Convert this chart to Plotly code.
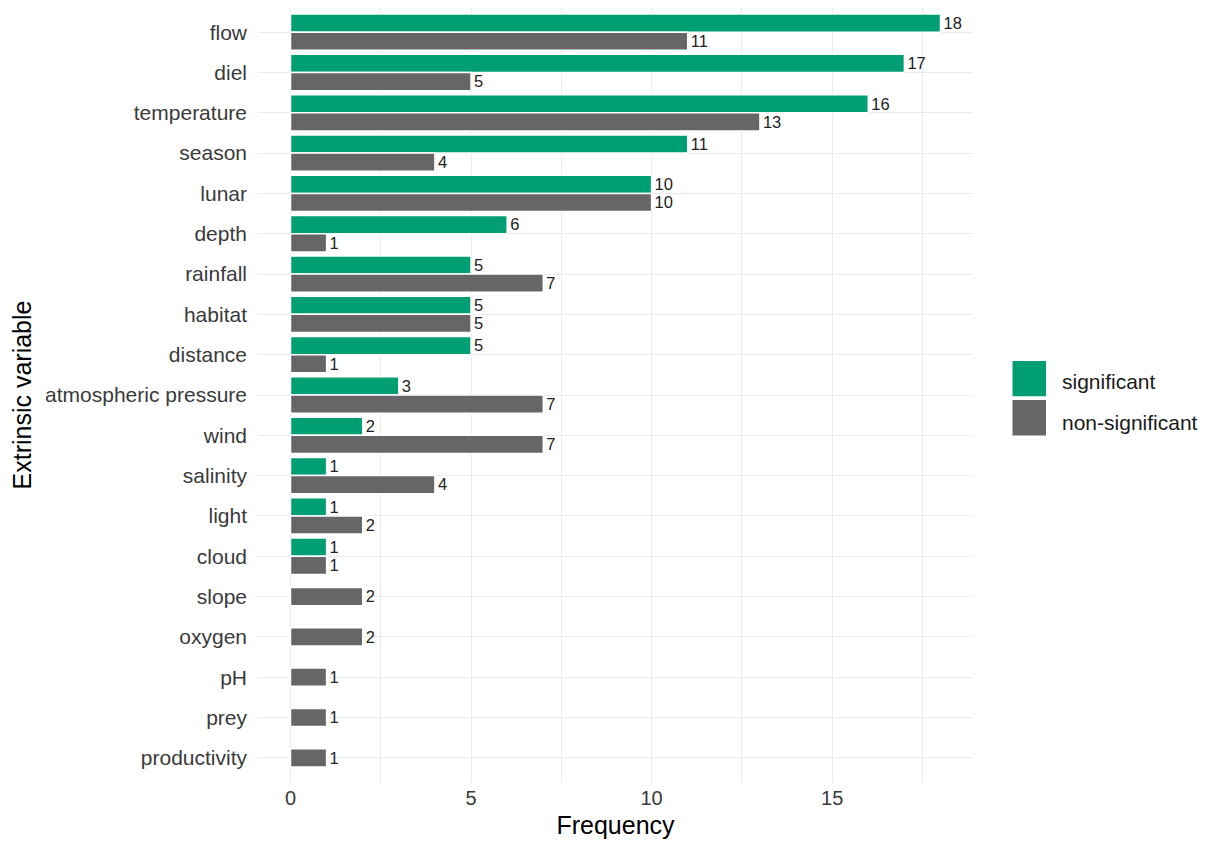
import plotly.graph_objects as go

categories = ["flow", "diel", "temperature", "season", "lunar", "depth", "rainfall",
              "habitat", "distance", "atmospheric pressure", "wind", "salinity",
              "light", "cloud", "slope", "oxygen", "pH", "prey", "productivity"]
significant = [18, 17, 16, 11, 10, 6, 5, 5, 5, 3, 2, 1, 1, 1, 0, 0, 0, 0, 0]
non_significant = [11, 5, 13, 4, 10, 1, 7, 5, 1, 7, 7, 4, 2, 1, 2, 2, 1, 1, 1]
x_ticks = [0, 5, 10, 15]

GREEN = "#009E73"
GRAY = "#666666"
FONT = "Liberation Sans, Arial, sans-serif"
W = 0.45

sig_y, sig_x = [], []
non_y, non_x, non_off = [], [], []
for c, s, n in zip(categories, significant, non_significant):
    if s > 0:
        sig_y.append(c)
        sig_x.append(s)
    if n > 0:
        non_y.append(c)
        non_x.append(n)
        non_off.append(0.0 if s > 0 else -W / 2)

fig = go.Figure()
fig.add_trace(go.Bar(
    y=sig_y, x=sig_x, orientation="h", name="significant",
    marker=dict(color=GREEN, line=dict(color="white", width=1.5)),
    width=W, offset=-W,
    text=[str(v) for v in sig_x], textposition="outside",
    textfont=dict(size=20, color="#222222", family=FONT),
    cliponaxis=False, showlegend=False,
))
fig.add_trace(go.Bar(
    y=non_y, x=non_x, orientation="h", name="non-significant",
    marker=dict(color=GRAY, line=dict(color="white", width=1.5)),
    width=W, offset=non_off,
    text=[str(v) for v in non_x], textposition="outside",
    textfont=dict(size=20, color="#222222", family=FONT),
    cliponaxis=False, showlegend=False,
))

# legend keys drawn manually (ggplot style)
fig.add_shape(type="rect", xref="paper", yref="paper", x0=1.0542, x1=1.1032, y0=0.4974, y1=0.5449,
              fillcolor=GREEN, line=dict(color="white", width=1.5))
fig.add_shape(type="rect", xref="paper", yref="paper", x0=1.0542, x1=1.1032, y0=0.4466, y1=0.4944,
              fillcolor=GRAY, line=dict(color="white", width=1.5))
fig.add_annotation(xref="paper", yref="paper", x=1.122, y=0.5168, text="significant",
                   showarrow=False, xanchor="left", yanchor="middle",
                   font=dict(size=21, color="#1a1a1a", family=FONT))
fig.add_annotation(xref="paper", yref="paper", x=1.122, y=0.4651, text="non-significant",
                   showarrow=False, xanchor="left", yanchor="middle",
                   font=dict(size=21, color="#1a1a1a", family=FONT))

fig.update_layout(
    width=1204, height=833,
    margin=dict(l=250, r=239, t=0, b=59),
    paper_bgcolor="white", plot_bgcolor="white",
    barmode="overlay",
    font=dict(family=FONT, color="#3a3a3a"),
    xaxis=dict(
        range=[-0.9, 18.9], tickvals=x_ticks, ticktext=[str(t) for t in x_ticks],
        showgrid=True, gridcolor="#EBEBEB", gridwidth=1.2,
        minor=dict(dtick=2.5, tick0=0, showgrid=True, gridcolor="#EBEBEB", gridwidth=0.8),
        zeroline=False, showline=False, ticks="", automargin=False,
        tickfont=dict(size=20, color="#3a3a3a"), ticklabelstandoff=2,
        title=dict(text="Frequency", font=dict(size=25, color="#000000"), standoff=8),
    ),
    yaxis=dict(
        type="category", categoryorder="array", categoryarray=categories,
        autorange=False, range=[18.6, -0.6],
        showgrid=True, gridcolor="#EBEBEB", gridwidth=1.2,
        zeroline=False, showline=False, ticks="", ticklabelstandoff=10, automargin=False,
        tickfont=dict(size=21, color="#3a3a3a"),
        title=dict(text="Extrinsic variable", font=dict(size=25, color="#000000"), standoff=8),
    ),
)

fig.write_html("out.html")
